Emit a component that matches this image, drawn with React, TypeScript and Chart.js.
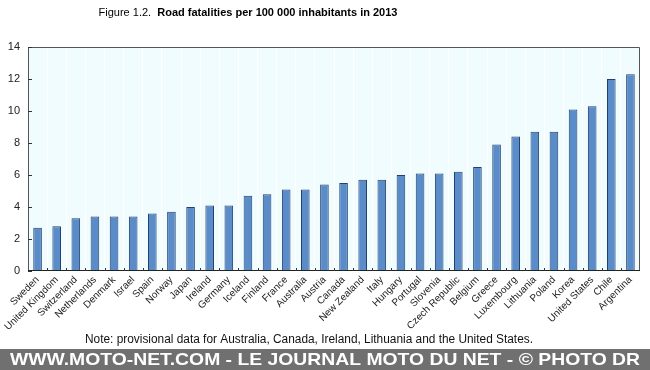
import React, { useEffect, useRef } from "react";
import { Chart, registerables } from "chart.js";

Chart.register(...registerables);

const countries = [
  "Sweden", "United Kingdom", "Switzerland", "Netherlands", "Denmark", "Israel", "Spain", "Norway",
  "Japan", "Ireland", "Germany", "Iceland", "Finland", "France", "Australia", "Austria",
  "Canada", "New Zealand", "Italy", "Hungary", "Portugal", "Slovenia", "Czech Republic", "Belgium",
  "Greece", "Luxembourg", "Lithuania", "Poland", "Korea", "United States", "Chile", "Argentina",
];

const fatalities = [
  2.7, 2.8, 3.3, 3.4, 3.4, 3.4, 3.6, 3.7,
  4.0, 4.1, 4.1, 4.7, 4.8, 5.1, 5.1, 5.4,
  5.5, 5.7, 5.7, 6.0, 6.1, 6.1, 6.2, 6.5,
  7.9, 8.4, 8.7, 8.7, 10.1, 10.3, 12.0, 12.3,
];

const yTicks = [0, 2, 4, 6, 8, 10, 12, 14];

const titlePrefix = "Figure 1.2.";
const titleMain = "Road fatalities per 100 000 inhabitants in 2013";
const noteText = "Note: provisional data for Australia, Canada, Ireland, Lithuania and the United States.";
const bannerText = "WWW.MOTO-NET.COM - LE JOURNAL MOTO DU NET - \u00A9 PHOTO DR";

const FONT = "'Liberation Sans', Arial, sans-serif";

const decorPlugin = {
  id: "decor",
  beforeDraw(chart: any) {
    const { ctx, chartArea: a } = chart;
    ctx.save();
    ctx.fillStyle = "#ffffff";
    ctx.fillRect(0, 0, chart.width, chart.height);
    ctx.fillStyle = "#f0fcfd";
    ctx.fillRect(a.left, a.top, a.right - a.left, a.bottom - a.top);
    ctx.restore();
  },
  afterDraw(chart: any) {
    const { ctx, chartArea: a, scales } = chart;
    ctx.save();
    // frame
    ctx.strokeStyle = "#555555";
    ctx.lineWidth = 1;
    ctx.beginPath();
    ctx.moveTo(a.left + 0.5, a.bottom);
    ctx.lineTo(a.left + 0.5, a.top + 0.5);
    ctx.lineTo(a.right - 0.5, a.top + 0.5);
    ctx.lineTo(a.right - 0.5, a.bottom);
    ctx.stroke();
    ctx.strokeStyle = "#222222";
    ctx.beginPath();
    ctx.moveTo(a.left, a.bottom - 0.5);
    ctx.lineTo(a.right, a.bottom - 0.5);
    ctx.stroke();
    // y inward ticks
    const y = scales.y;
    ctx.strokeStyle = "#333333";
    ctx.beginPath();
    yTicks.forEach((v) => {
      const py = Math.round(y.getPixelForValue(v)) + 0.5;
      ctx.moveTo(a.left, py);
      ctx.lineTo(a.left + 4, py);
    });
    ctx.stroke();
    // x inward ticks at category boundaries
    const x = scales.x;
    ctx.beginPath();
    for (let i = 1; i < countries.length; i++) {
      const px = Math.round((x.getPixelForValue(i - 1) + x.getPixelForValue(i)) / 2) + 0.5;
      ctx.moveTo(px, a.bottom);
      ctx.lineTo(px, a.bottom - 3);
    }
    ctx.stroke();

    // title
    ctx.textBaseline = "alphabetic";
    ctx.fillStyle = "#000000";
    ctx.font = `11px ${FONT}`;
    const w1 = ctx.measureText(titlePrefix + "  ").width;
    ctx.font = `bold 11px ${FONT}`;
    const w2 = ctx.measureText(titleMain).width;
    const start = 248 - (w1 + w2) / 2;
    ctx.font = `11px ${FONT}`;
    ctx.fillText(titlePrefix, start, 16);
    ctx.font = `bold 11px ${FONT}`;
    ctx.fillText(titleMain, start + w1, 16);

    // note
    ctx.font = `12px ${FONT}`;
    ctx.fillStyle = "#111111";
    ctx.textAlign = "center";
    ctx.fillText(noteText, 309, 343, 448);

    // banner
    ctx.fillStyle = "#707070";
    ctx.fillRect(0, 349, chart.width, chart.height - 349);
    ctx.fillStyle = "#ffffff";
    ctx.font = `bold 17px ${FONT}`;
    ctx.textAlign = "left";
    ctx.textBaseline = "middle";
    const bw = ctx.measureText(bannerText).width;
    const sx = 630 / bw;
    ctx.translate(10, 360);
    ctx.scale(sx, 1);
    ctx.fillText(bannerText, 0, 0);
    ctx.restore();
  },
};

export default function App() {
  const ref = useRef<HTMLCanvasElement | null>(null);
  useEffect(() => {
    if (!ref.current) return;
    const chart = new Chart(ref.current, {
      type: "bar",
      data: {
        labels: countries,
        datasets: [
          {
            data: fatalities,
            backgroundColor: "#5a8cca",
            borderColor: "#23406a",
            borderWidth: 1,
            barPercentage: 0.45,
            categoryPercentage: 1,
          },
        ],
      },
      options: {
        responsive: false,
        animation: false,
        devicePixelRatio: 1,
        layout: { padding: { top: 47, right: 10, left: 0, bottom: 0 } },
        plugins: { legend: { display: false }, title: { display: false }, tooltip: { enabled: false } },
        scales: {
          x: {
            offset: true,
            grid: { display: true, color: "#ffffff", lineWidth: 1, offset: true, drawTicks: false },
            border: { display: false },
            ticks: {
              autoSkip: false,
              maxRotation: 45,
              minRotation: 45,
              padding: 3,
              color: "#222222",
              font: { family: FONT, size: 10 },
            },
            afterFit: (s: any) => {
              s.height = 99;
            },
          },
          y: {
            min: 0,
            max: 14,
            afterBuildTicks: (s: any) => {
              s.ticks = yTicks.map((v) => ({ value: v }));
            },
            grid: { display: false, drawTicks: false },
            border: { display: false },
            ticks: {
              padding: 8,
              color: "#222222",
              font: { family: FONT, size: 11 },
            },
            afterFit: (s: any) => {
              s.width = 28;
            },
          },
        },
      },
      plugins: [decorPlugin],
    });
    return () => chart.destroy();
  }, []);
  return (
    <div style={{ position: "absolute", left: 0, top: 0, width: 650, height: 370 }}>
      <canvas ref={ref} width={650} height={370} style={{ width: 650, height: 370, display: "block" }} />
    </div>
  );
}
